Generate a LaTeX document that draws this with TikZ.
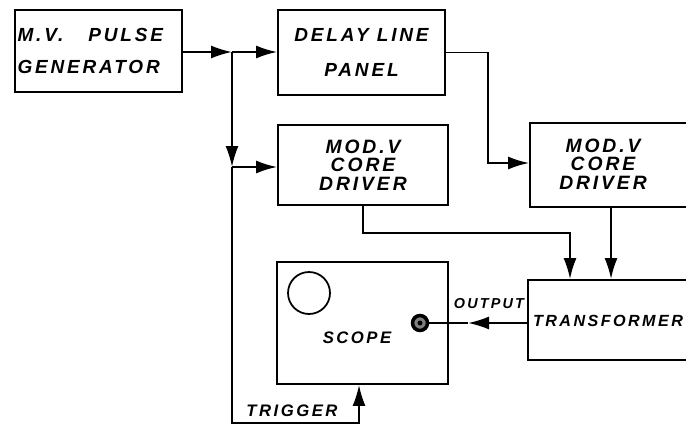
\documentclass[tikz,border=0pt]{standalone}
\usepackage{fontspec}
\setsansfont{Liberation Sans}[LetterSpace=15]
\usetikzlibrary{arrows.meta,positioning}

\tikzset{
	blk/.style={draw, rectangle, inner sep=0pt, align=center,
		font=\sffamily\bfseries\itshape\fontsize{10.8}{12}\selectfont},
	lbl/.style={inner sep=0pt, align=center,
		font=\sffamily\bfseries\itshape\fontsize{9.5}{10.5}\selectfont},
	modtxt/.style={font=\sffamily\bfseries\itshape\fontsize{11}{10.4}\selectfont},
	sig/.style={-{Latex[length=0.42cm,width=0.26cm]}}
}

\begin{document}
\begin{tikzpicture}[x=0.02cm, y=-0.02cm, line width=1.1pt]
	\clip (0,0) rectangle (686,426);

	% blocks
	\node[blk, minimum width=3.34cm, minimum height=1.64cm, text width=3.24cm, align=left, inner xsep=0.05cm]
		(gen) at (98.5,51) {M.V.\hspace{0.5cm}PULSE\\[6pt]GENERATOR};
	\node[blk, minimum width=3.34cm, minimum height=1.7cm] (delay) at (361.5,52.5) {DELAY LINE\\[8pt]PANEL};
	\node[blk, modtxt, minimum width=3.4cm, minimum height=1.6cm] (modA) at (363,165) {MOD.V\\CORE\\DRIVER};
	\node[blk, minimum width=3.6cm, minimum height=1.68cm] (modB) at (620,165) {};
	\node[lbl, modtxt] (modBtxt) at (603,164) {MOD.V\\CORE\\DRIVER};
	\node[blk, minimum width=3.64cm, minimum height=1.6cm] (trans) at (619,320) {};
	\node[lbl, font=\sffamily\bfseries\itshape\fontsize{9.2}{10}\selectfont] (transtxt) at (608,321) {TRANSFORMER};
	\node[blk, minimum width=3.42cm, minimum height=2.44cm] (scope) at (362.5,323) {};
	\node[lbl] (scopetxt) at (357,338) {SCOPE};

	% scope screen and output jack
	\node[draw, circle, minimum size=0.84cm, inner sep=0pt, line width=1pt] (screen) at (309,293) {};
	\node[draw, circle, fill=gray, minimum size=0.3cm, inner sep=0pt, line width=2pt] (conn) at (420,323) {};
	\fill (conn.center) circle[radius=0.05cm];

	% junctions
	\coordinate (jn) at (232,52);
	\coordinate (jn2) at (232,167);
	\coordinate (trg) at (359,423);
	\coordinate (dl) at (488,163);
	\coordinate (ma) at (570,233);
	\coordinate (outm) at (468,323);

	% connectors
	\draw[sig] (gen.east |- jn) -- (jn);
	\draw[sig] (jn) -- (delay.west |- jn);
	\draw[sig] (jn) -- (jn2);
	\draw[sig] (jn2) -- (jn2 -| modA.west);
	\draw[sig] (jn2) |- (trg) -- (trg |- scope.south);
	\draw[sig] (delay.east) -| (dl) -- (dl -| modB.west);
	\draw[sig] (modA.south) |- (ma) -- (ma |- trans.north);
	\draw[sig] ([xshift=-0.18cm]modB.south) -- ([xshift=-0.18cm]modB.south |- trans.north);
	\draw[sig] (conn -| trans.west) -- (outm);
	\draw (outm) -- (conn.east);

	% labels
	\node[lbl, font=\sffamily\bfseries\itshape\fontsize{8.2}{9}\selectfont] (outlbl) at (489,304) {OUTPUT};
	\node[lbl] (trglbl) at (292,411) {TRIGGER};
\end{tikzpicture}
\end{document}
